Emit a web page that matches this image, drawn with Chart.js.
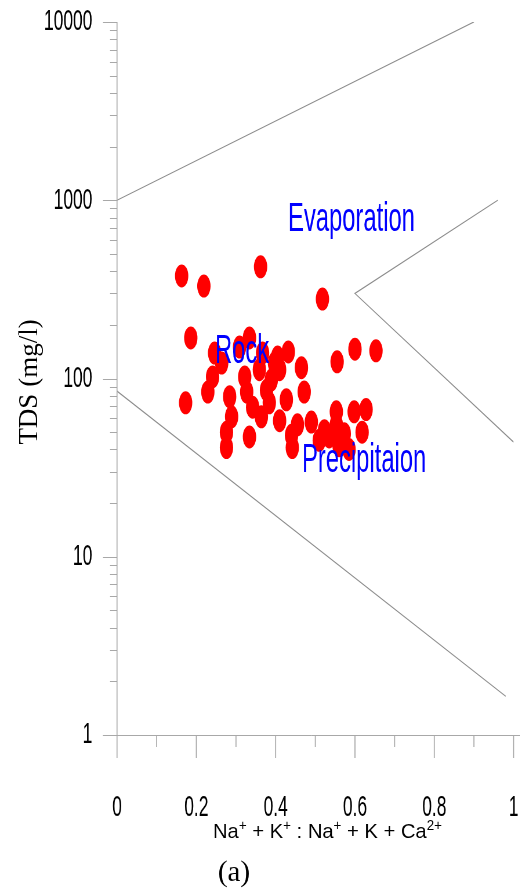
<!DOCTYPE html>
<html><head><meta charset="utf-8">
<script src="https://cdn.jsdelivr.net/npm/chart.js@4/dist/chart.umd.min.js"></script>
<style>
html,body{margin:0;padding:0;overflow:hidden;background:#fff;width:520px;height:891px;}
#wrap{position:absolute;left:0;top:0;width:897px;height:891px;transform:scaleX(0.58);transform-origin:0 0;}
</style></head><body>
<div id="wrap"><canvas id="c" width="897" height="891"></canvas></div>
<script>
// horizontal squeeze of the original figure
const SQUEEZE = 0.58;

// Na+ + K+ : Na+ + K+ + Ca2+ ratio of each sample
const naRatio = [0.163, 0.219, 0.362, 0.186, 0.518, 0.600, 0.653, 0.432, 0.555, 0.173,
  0.241, 0.229, 0.264, 0.284, 0.289, 0.276, 0.276, 0.334, 0.322, 0.327,
  0.342, 0.364, 0.359, 0.377, 0.384, 0.397, 0.246, 0.309, 0.334, 0.367,
  0.405, 0.410, 0.389, 0.465, 0.472, 0.427, 0.410, 0.455, 0.490, 0.440,
  0.442, 0.523, 0.553, 0.553, 0.573, 0.535, 0.598, 0.628, 0.618, 0.585,
  0.510, 0.560];
// TDS (mg/l) of each sample
const tds = [376, 330, 423, 169, 279, 146, 143, 141, 124, 73,
  102, 84, 122, 79, 61, 50, 41, 47, 102, 84,
  69, 61, 112, 86, 73, 122, 139, 150, 169, 139,
  132, 112, 98, 115, 84, 76, 58, 55, 57, 48,
  41, 51, 65, 55, 49, 47, 65, 67, 50, 40,
  45, 42];

// Gibbs boundary lines
const upperLineX = [0, 0.9];
const upperLineY = [1000, 10000];
const rightLineX = [0.96, 0.6, 1.0];
const rightLineY = [1000, 300, 44];
const lowerLineX = [0, 0.98];
const lowerLineY = [85, 1.65];

// ticks
const xTicks = [0, 0.2, 0.4, 0.6, 0.8, 1];
const xMinorTicks = [0.1, 0.3, 0.5, 0.7, 0.9];
const yTicks = [1, 10, 100, 1000, 10000];
const yMinorMultipliers = [2, 3, 4, 5, 6, 7, 8, 9];

// texts
const zoneLabels = ['Evaporation', 'Rock', 'Precipitaion'];
const xTitleParts = [['Na', 0], ['+', 1], [' + K', 0], ['+', 1], [' : Na', 0], ['+', 1], [' + K + Ca', 0], ['2+', 1]];
const yTitle = 'TDS (mg/l)';
const caption = '(a)';

const SANS = '"Liberation Sans", Arial, Helvetica, sans-serif';
const SERIF = '"Liberation Serif", "Times New Roman", serif';

const toPts = (xs, ys) => xs.map((x, i) => ({ x: x, y: ys[i] }));

const decor = {
  id: 'decor',
  afterDraw(chart) {
    const ctx = chart.ctx;
    const xs = chart.scales.x, ys = chart.scales.y, ca = chart.chartArea;
    const S = SQUEEZE;
    ctx.save();
    // axis lines and ticks
    ctx.strokeStyle = '#a8a8a8';
    ctx.lineWidth = 1 / S;
    ctx.beginPath();
    ctx.moveTo(ca.left, ca.top);
    ctx.lineTo(ca.left, ca.bottom + 23);
    xTicks.forEach(v => { const p = xs.getPixelForValue(v); ctx.moveTo(p, ca.bottom); ctx.lineTo(p, ca.bottom + 23); });
    xMinorTicks.forEach(v => { const p = xs.getPixelForValue(v); ctx.moveTo(p, ca.bottom); ctx.lineTo(p, ca.bottom + 12); });
    ctx.stroke();
    ctx.lineWidth = 1;
    ctx.beginPath();
    ctx.moveTo(ca.left - 14 / S, ca.bottom + 0.5);
    ctx.lineTo(chart.width, ca.bottom + 0.5);
    yTicks.forEach(v => { const p = Math.round(ys.getPixelForValue(v)) + 0.5; ctx.moveTo(ca.left - 14 / S, p); ctx.lineTo(ca.left, p); });
    for (let d = 0; d < yTicks.length - 1; d++) {
      yMinorMultipliers.forEach(m => {
        const p = Math.round(ys.getPixelForValue(m * yTicks[d])) + 0.5;
        ctx.moveTo(ca.left - 7 / S, p); ctx.lineTo(ca.left, p);
      });
    }
    ctx.stroke();

    // zone labels (squeezed like the figure)
    ctx.fillStyle = '#0000ff';
    ctx.font = '41px ' + SANS;
    ctx.textAlign = 'left';
    ctx.textBaseline = 'alphabetic';
    const zonePos = [[288, 231], [215, 363], [302, 472]];
    zoneLabels.forEach((t, i) => ctx.fillText(t, zonePos[i][0] / S, zonePos[i][1]));

    // unsqueezed texts
    ctx.fillStyle = '#000';
    // y title
    ctx.save();
    ctx.translate(30 / S, 382);
    ctx.scale(1 / S, 1);
    ctx.rotate(-Math.PI / 2);
    ctx.font = '27px ' + SERIF;
    ctx.textAlign = 'center';
    ctx.textBaseline = 'middle';
    ctx.fillText(yTitle, 0, 0);
    ctx.restore();

    // caption
    ctx.save();
    ctx.translate(234 / S, 881);
    ctx.scale(1 / S, 1);
    ctx.font = '29px ' + SERIF;
    ctx.textAlign = 'center';
    ctx.textBaseline = 'alphabetic';
    ctx.fillText(caption, 0, 0);
    ctx.restore();

    // x title with superscripts
    ctx.save();
    const base = '21px ' + SANS, sup = '14px ' + SANS;
    let w = 0;
    xTitleParts.forEach(([t, s]) => { ctx.font = s ? sup : base; w += ctx.measureText(t).width; });
    const f = 229 / w;
    ctx.translate(213 / S, 838);
    ctx.scale(f / S, 1);
    ctx.textAlign = 'left';
    ctx.textBaseline = 'alphabetic';
    let x = 0;
    xTitleParts.forEach(([t, s]) => {
      ctx.font = s ? sup : base;
      ctx.fillText(t, x, s ? -8 : 0);
      x += ctx.measureText(t).width;
    });
    ctx.restore();
    ctx.restore();
  }
};

new Chart(document.getElementById('c'), {
  type: 'scatter',
  data: {
    datasets: [
      { data: toPts(naRatio, tds), backgroundColor: '#ff0000', borderWidth: 0, pointRadius: 11.5, pointHoverRadius: 11.5 },
      { data: toPts(upperLineX, upperLineY), showLine: true, borderColor: '#8c8c8c', borderWidth: 1.3, pointRadius: 0, fill: false },
      { data: toPts(rightLineX, rightLineY), showLine: true, borderColor: '#8c8c8c', borderWidth: 1.3, pointRadius: 0, fill: false },
      { data: toPts(lowerLineX, lowerLineY), showLine: true, borderColor: '#8c8c8c', borderWidth: 1.3, pointRadius: 0, fill: false }
    ]
  },
  options: {
    responsive: false,
    devicePixelRatio: 1,
    animation: false,
    events: [],
    layout: { padding: { left: 0, right: 9.07, top: 22, bottom: 0 } },
    plugins: { legend: { display: false }, tooltip: { enabled: false } },
    scales: {
      x: {
        type: 'linear', min: 0, max: 1,
        afterBuildTicks: s => { s.ticks = xTicks.map(v => ({ value: v })); },
        afterFit: s => { s.height = 156; s.paddingLeft = 0; s.paddingRight = 0; },
        ticks: { callback: v => String(v), font: { family: SANS, size: 30 }, color: '#000', padding: 47, maxRotation: 0, autoSkip: false },
        grid: { display: false }, border: { display: false }
      },
      y: {
        type: 'logarithmic', min: 1, max: 10000,
        afterBuildTicks: s => { s.ticks = yTicks.map(v => ({ value: v })); },
        afterFit: s => { s.width = 117 / SQUEEZE; s.paddingTop = 0; s.paddingBottom = 0; },
        ticks: { callback: v => String(v), font: { family: SANS, size: 30 }, color: '#000', padding: 34.5, autoSkip: false },
        grid: { display: false }, border: { display: false }
      }
    }
  },
  plugins: [decor]
});
</script>
</body></html>
